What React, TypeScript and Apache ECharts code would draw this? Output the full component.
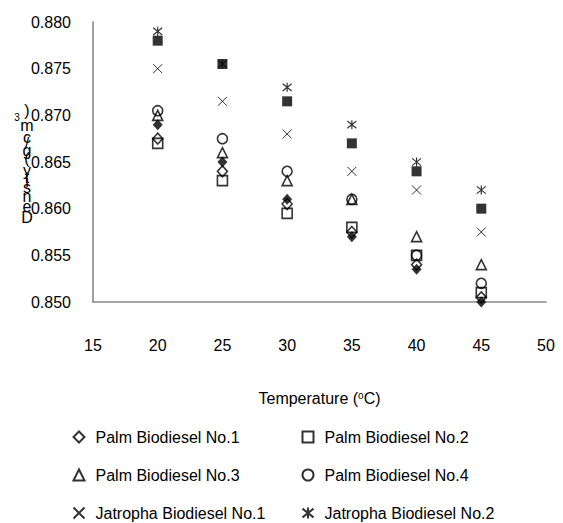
import React, { useEffect, useRef } from "react";
import * as echarts from "echarts";

const temperatures = [20, 25, 30, 35, 40, 45];
const palm1 = [0.8675, 0.864, 0.8605, 0.8575, 0.854, 0.8505];
const palm2 = [0.867, 0.863, 0.8595, 0.858, 0.855, 0.851];
const palm3 = [0.87, 0.866, 0.863, 0.861, 0.857, 0.854];
const palm4 = [0.8705, 0.8675, 0.864, 0.861, 0.855, 0.852];
const jatropha1 = [0.875, 0.8715, 0.868, 0.864, 0.862, 0.8575];
const jatropha2 = [0.879, 0.8755, 0.873, 0.869, 0.865, 0.862];
const extraFilledSquare = [0.878, 0.8755, 0.8715, 0.867, 0.864, 0.86];
const extraFilledDiamond = [0.869, 0.865, 0.861, 0.857, 0.8535, 0.85];

const xTicks = { min: 15, max: 50, interval: 5 };
const yTicks = { min: 0.85, max: 0.88, interval: 0.005 };

const FONT = "'Liberation Sans', Arial, sans-serif";

const X_PATH = "path://M0,0L10,10M10,0L0,10";
const STAR_PATH = "path://M0,1L10,9M10,1L0,9M5,0L5,10";

const yTitleChars: [string, number][] = [
  ["D", 0.722], ["e", 0.556], ["n", 0.556], ["s", 0.5], ["i", 0.222], ["t", 0.278],
  ["y", 0.5], [" ", 0.278], ["(", 0.333], ["g", 0.556], ["/", 0.278], ["c", 0.5],
  ["m", 0.833], ["3", 0.333], [")", 0.333],
];

function buildYTitle() {
  const pxPerEm = 17.1;
  const dCenter = 217;
  const start = dCenter + (0.722 / 2) * pxPerEm;
  let cum = 0;
  const els: any[] = [];
  yTitleChars.forEach(([ch, w]) => {
    const c = start - (cum + w / 2) * pxPerEm;
    cum += w;
    if (ch === " ") return;
    const sup = ch === "3";
    els.push({
      type: "text",
      x: sup ? 17 : 27,
      y: sup ? c + 2 : c,
      style: {
        text: ch,
        fill: "#000",
        font: `${sup ? 10 : 16}px ${FONT}`,
        align: "center",
        verticalAlign: "middle",
      },
    });
  });
  return els;
}

const open = { color: "rgba(0,0,0,0)", borderColor: "#000", borderWidth: 1.6 };
const filled = { color: "#000", borderColor: "#000", borderWidth: 0 };

function pts(vals: number[]) {
  return temperatures.map((t, i) => [t, vals[i]]);
}

export default function App() {
  const ref = useRef<HTMLDivElement>(null);
  useEffect(() => {
    if (!ref.current) return;
    const chart = echarts.init(ref.current, null, { renderer: "svg" });
    const mk = (name: string, vals: number[], symbol: string, size: any, style: any) => ({
      name,
      type: "scatter",
      data: pts(vals),
      symbol,
      symbolSize: size,
      itemStyle: style,
      emphasis: { disabled: true },
    });
    const legendText = {
      fontSize: 16,
      fontFamily: FONT,
      color: "#000",
      lineHeight: 16,
      padding: [0, 0, 0, 6],
    };
    const legendBase = {
      orient: "vertical",
      top: 429,
      padding: 0,
      itemGap: 22,
      itemWidth: 11,
      itemHeight: 11,
      selectedMode: false,
      textStyle: legendText,
    };
    chart.setOption({
      animation: false,
      textStyle: { fontFamily: FONT },
      grid: { left: 93, right: 17, top: 22, bottom: 221, containLabel: false },
      xAxis: {
        type: "value",
        min: xTicks.min,
        max: xTicks.max,
        interval: xTicks.interval,
        axisLine: { lineStyle: { color: "#898989", width: 1.6 } },
        axisTick: { show: false },
        splitLine: { show: false },
        axisLabel: { color: "#000", fontSize: 16, fontFamily: FONT, margin: 35 },
        name: "Temperature ({sup|o}C)",
        nameLocation: "middle",
        nameGap: 88,
        nameTextStyle: {
          color: "#000",
          fontSize: 16,
          fontFamily: FONT,
          rich: { sup: { fontSize: 10, verticalAlign: "top", padding: [0, 0, 6, 0], color: "#000", fontFamily: FONT } },
        },
      },
      yAxis: {
        type: "value",
        min: yTicks.min,
        max: yTicks.max,
        interval: yTicks.interval,
        axisLine: { show: true, lineStyle: { color: "#898989", width: 1.6 } },
        axisTick: { show: false },
        splitLine: { show: false },
        axisLabel: {
          color: "#000",
          fontSize: 16,
          fontFamily: FONT,
          margin: 22,
          formatter: (v: number) => v.toFixed(3),
        },
      },
      legend: [
        {
          ...legendBase,
          left: 72.5,
          data: ["Palm Biodiesel No.1", "Palm Biodiesel No.3", "Jatropha Biodiesel No.1"],
        },
        {
          ...legendBase,
          left: 301.5,
          data: ["Palm Biodiesel No.2", "Palm Biodiesel No.4", "Jatropha Biodiesel No.2"],
        },
      ],
      graphic: buildYTitle(),
      series: [
        mk("Extra filled diamond", extraFilledDiamond, "diamond", [10, 11], filled),
        mk("Palm Biodiesel No.1", palm1, "diamond", [10, 11], open),
        mk("Palm Biodiesel No.2", palm2, "rect", 10, open),
        mk("Palm Biodiesel No.3", palm3, "triangle", 10, open),
        mk("Palm Biodiesel No.4", palm4, "circle", 10, open),
        mk("Jatropha Biodiesel No.1", jatropha1, X_PATH, 9, { color: "rgba(0,0,0,0)", borderColor: "#000", borderWidth: 1 }),
        mk("Jatropha Biodiesel No.2", jatropha2, STAR_PATH, 9, { color: "rgba(0,0,0,0)", borderColor: "#000", borderWidth: 1.2 }),
        mk("Extra filled square", extraFilledSquare, "rect", 10, filled),
      ],
    });
    return () => chart.dispose();
  }, []);
  return <div ref={ref} style={{ width: 563, height: 523, position: "absolute", left: 0, top: 0 }} />;
}
